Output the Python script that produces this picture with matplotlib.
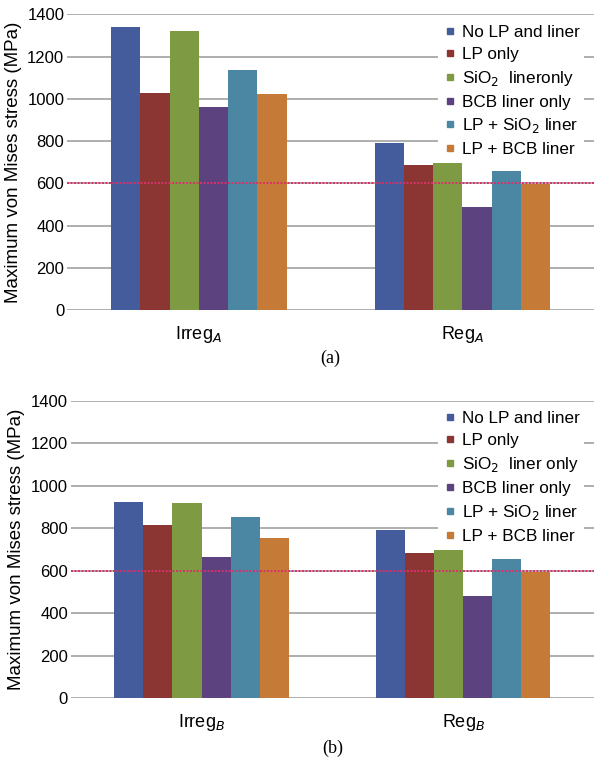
import numpy as np
import matplotlib
matplotlib.use("Agg")
import matplotlib.pyplot as plt
from matplotlib.lines import Line2D

plt.rcParams['font.family'] = ['Liberation Sans', 'DejaVu Sans']

series = ["No LP and liner", "LP only", "SiO$_2$  liner only", "BCB liner only",
          "LP + SiO$_2$ liner", "LP + BCB liner"]
series_a = ["No LP and liner", "LP only", "SiO$_2$  lineronly", "BCB liner only",
            "LP + SiO$_2$ liner", "LP + BCB liner"]
colors = ["#445b9c", "#8c3634", "#7e9b43", "#5c437f", "#4b87a2", "#c57b37"]

cats_a = ["Irreg$_A$", "Reg$_A$"]
cats_b = ["Irreg$_B$", "Reg$_B$"]

# rows = series, cols = categories
vals_a = [[1340, 793],
          [1028, 687],
          [1321, 698],
          [962, 486],
          [1138, 657],
          [1023, 599]]
vals_b = [[925, 792],
          [817, 683],
          [920, 698],
          [662, 481],
          [851, 657],
          [754, 595]]

limit = 600


def panel(ax, cats, vals, labels, caption, cap_y):
    x = np.arange(len(cats))
    w = 0.111
    n = len(vals)
    for i, v in enumerate(vals):
        ax.bar(x + (i - (n - 1) / 2) * w, v, w, color=colors[i], zorder=3)
    ax.set_ylim(0, 1400)
    ax.set_xlim(-0.5, 1.5)
    ax.set_yticks(range(0, 1401, 200))
    ax.yaxis.grid(True, color="#a8a8a8", lw=1.3, zorder=0)
    ax.set_axisbelow(True)
    for s in ax.spines.values():
        s.set_visible(False)
    ax.tick_params(length=0, labelsize=12)
    ax.tick_params(axis='y', pad=2)
    ax.tick_params(axis='x', pad=10)
    ax.set_xticks(x)
    ax.set_xticklabels(cats, fontsize=13)
    ax.axhline(limit, color="#d8306a", lw=1.4, ls=(0, (1, 0.8)), zorder=4)
    ax.set_ylabel("Maximum von Mises stress (MPa)", fontsize=13.5, labelpad=4)
    handles = [Line2D([], [], marker='s', ls='none', color=c, markersize=5) for c in colors]
    leg = ax.legend(handles, labels, loc='upper right', bbox_to_anchor=(0.987, 0.99),
                    frameon=True, fontsize=12.3, handletextpad=0.25,
                    labelspacing=0.4, borderpad=0.25, handlelength=0.9,
                    borderaxespad=0.2)
    leg.get_frame().set_edgecolor('none')
    leg.get_frame().set_facecolor('white')
    leg.get_frame().set_alpha(1)
    leg.set_zorder(5)
    ax.text(0.5, cap_y, caption, transform=ax.transAxes, ha='center', va='center',
            fontsize=13, family='Liberation Serif')


fig = plt.figure(figsize=(5.94, 7.62), dpi=100)
ax1 = fig.add_axes([0.113, 0.593, 0.887, 0.388])
ax2 = fig.add_axes([0.119, 0.084, 0.881, 0.390])
panel(ax1, cats_a, vals_a, series_a, "(a)", -0.162)
panel(ax2, cats_b, vals_b, series, "(b)", -0.171)

fig.savefig("out.png", dpi=100)
